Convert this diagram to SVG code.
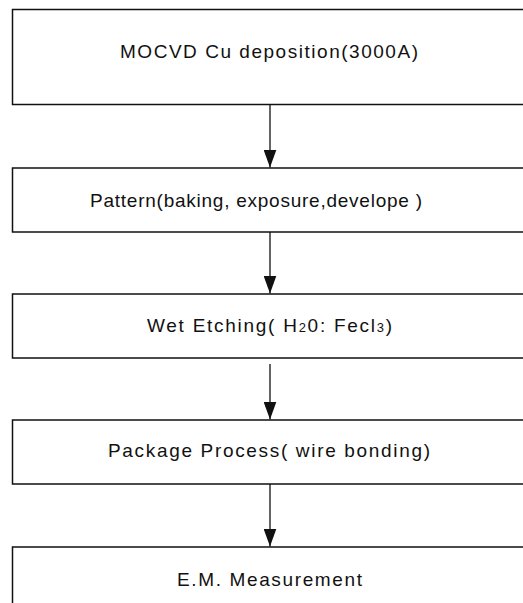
<svg xmlns="http://www.w3.org/2000/svg" width="523" height="603" viewBox="0 0 523 603">
  <style>
    .box { fill: #ffffff; stroke: #111111; stroke-width: 1.5; }
    .label { font-family: "Liberation Sans", Arial, sans-serif; font-size: 19px; fill: #111111; text-anchor: middle; }
    .sub { font-size: 13px; }
    .link { stroke: #111111; stroke-width: 1.3; fill: none; marker-end: url(#head); }
  </style>
  <defs>
    <!-- filled arrowhead, tip at the end of the line -->
    <marker id="head" markerUnits="userSpaceOnUse" markerWidth="18" markerHeight="13" viewBox="0 0 18 13" refX="18" refY="6.5" orient="auto">
      <path d="M0,0 L18,6.5 L0,13 Z" fill="#111111"/>
    </marker>
  </defs>
  <rect width="523" height="603" fill="#ffffff"/>

  <!-- process steps -->
  <g id="step-deposition">
    <rect class="box" x="12.5" y="9.5" width="520" height="95"/>
    <text class="label" x="269" y="58" textLength="298">MOCVD Cu deposition(3000A)</text>
  </g>
  <g id="step-pattern">
    <rect class="box" x="12.5" y="168" width="520" height="64"/>
    <text class="label" x="256" y="207" textLength="332">Pattern(baking, exposure,develope )</text>
  </g>
  <g id="step-etching">
    <rect class="box" x="12.5" y="294" width="520" height="64"/>
    <text class="label" x="269.5" y="332" textLength="245">Wet Etching( H<tspan class="sub">2</tspan>0: Fecl<tspan class="sub">3</tspan>)</text>
  </g>
  <g id="step-package">
    <rect class="box" x="12.5" y="420" width="520" height="64"/>
    <text class="label" x="269" y="457" textLength="322">Package Process( wire bonding)</text>
  </g>
  <g id="step-measurement">
    <rect class="box" x="12.5" y="547" width="520" height="70"/>
    <text class="label" x="269.5" y="586" textLength="185">E.M. Measurement</text>
  </g>

  <!-- connectors -->
  <g id="connectors">
    <line class="link" x1="270" y1="105" x2="270" y2="167.5"/>
    <line class="link" x1="270" y1="232" x2="270" y2="293.5"/>
    <line class="link" x1="270" y1="364" x2="270" y2="419.5"/>
    <line class="link" x1="270" y1="484" x2="270" y2="546.5"/>
  </g>
</svg>
